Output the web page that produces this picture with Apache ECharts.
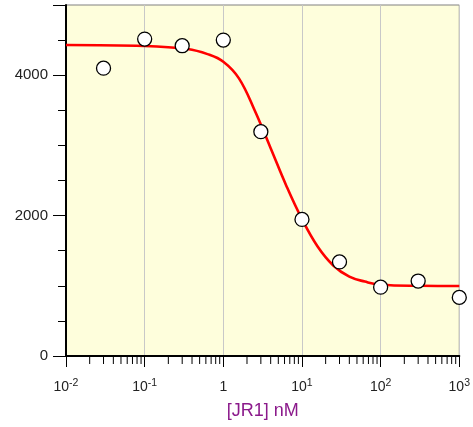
<!DOCTYPE html>
<html>
<head>
<meta charset="utf-8">
<script src="https://cdn.jsdelivr.net/npm/echarts@6/dist/echarts.min.js"></script>
<style>
html,body{margin:0;padding:0;background:#fff;}
#chart{width:473px;height:427px;}
</style>
</head>
<body>
<div id="chart"></div>
<script>
// Measured points
var pointX = [0.03, 0.1, 0.3, 1, 3, 10, 30, 100, 300, 1000];
var pointY = [4100, 4515, 4420, 4500, 3195, 1945, 1340, 980, 1068, 835];

// Fitted curve
var curveX = [0.01, 0.1, 0.35, 0.63, 1, 1.58, 2.5, 4, 6.3, 10, 15.8, 25, 40, 63, 100, 316, 1000];
var curveY = [4430, 4416, 4373, 4300, 4192, 3955, 3500, 2960, 2430, 1950, 1560, 1290, 1130, 1060, 1015, 1000, 997];

// Minor tick positions on the log x axis
var minorTicksX = [];
[0.01, 0.1, 1, 10, 100].forEach(function (d) {
  for (var k = 2; k <= 9; k++) minorTicksX.push(+(d * k).toPrecision(3));
});

var xName = '[JR1] nM';
var xMin = 0.01, xMax = 1000;
var yMin = 0, yMax = 5000, yInterval = 2000;

var chart = echarts.init(document.getElementById('chart'));
var font = '"Liberation Sans", Arial, sans-serif';

chart.setOption({
  animation: false,
  grid: {
    left: 66, top: 5, right: 13, bottom: 71,
    show: true, backgroundColor: '#fefedc', borderColor: '#808080', borderWidth: 1
  },
  xAxis: {
    type: 'log', logBase: 10, min: xMin, max: xMax,
    name: xName, nameLocation: 'middle', nameGap: 46,
    nameTextStyle: { color: '#8b1a8b', fontSize: 18, fontFamily: font },
    axisLine: { show: true, onZero: false, lineStyle: { color: '#000', width: 2 } },
    axisTick: { show: true, length: 11, lineStyle: { color: '#000', width: 1 } },
    splitLine: { show: true, lineStyle: { color: '#c8c8c8', width: 1 } },
    axisLabel: {
      margin: 22,
      formatter: function (v) {
        var e = Math.round(Math.log10(v));
        if (e === 0) return '{b|1}';
        return '{b|10}{s|' + e + '}';
      },
      rich: {
        b: { fontSize: 14, fontFamily: font, color: '#222', lineHeight: 16, verticalAlign: 'bottom' },
        s: { fontSize: 10.5, fontFamily: font, color: '#222', lineHeight: 16, verticalAlign: 'top' }
      }
    }
  },
  yAxis: {
    type: 'value', min: yMin, max: yMax, interval: yInterval,
    axisLine: { show: true, lineStyle: { color: '#000', width: 2 } },
    axisTick: { show: true, length: 13, lineStyle: { color: '#000', width: 1 } },
    minorTick: { show: true, splitNumber: 4, length: 8, lineStyle: { color: '#000', width: 1 } },
    splitLine: { show: false },
    axisLabel: {
      margin: 18, fontSize: 15, fontFamily: font, color: '#222',
      formatter: function (v) { return v === yMax ? '' : String(v); }
    }
  },
  series: [
    {
      type: 'custom',
      coordinateSystem: 'cartesian2d',
      clip: false,
      silent: true,
      data: minorTicksX.map(function (x) { return [x, yMin]; }),
      renderItem: function (params, api) {
        var p = api.coord([api.value(0), api.value(1)]);
        return {
          type: 'line',
          shape: { x1: p[0], y1: p[1], x2: p[0], y2: p[1] + 8 },
          style: { stroke: '#000', lineWidth: 1 }
        };
      },
      z: 1
    },
    {
      type: 'line',
      data: curveX.map(function (x, i) { return [x, curveY[i]]; }),
      smooth: 0.4,
      showSymbol: false,
      lineStyle: { color: '#ff0000', width: 2.6 },
      z: 3
    },
    {
      type: 'scatter',
      data: pointX.map(function (x, i) { return [x, pointY[i]]; }),
      symbol: 'circle',
      symbolSize: 14,
      clip: false,
      itemStyle: { color: '#ffffff', borderColor: '#000', borderWidth: 1.3, opacity: 1 },
      z: 4
    }
  ]
});
</script>
</body>
</html>
